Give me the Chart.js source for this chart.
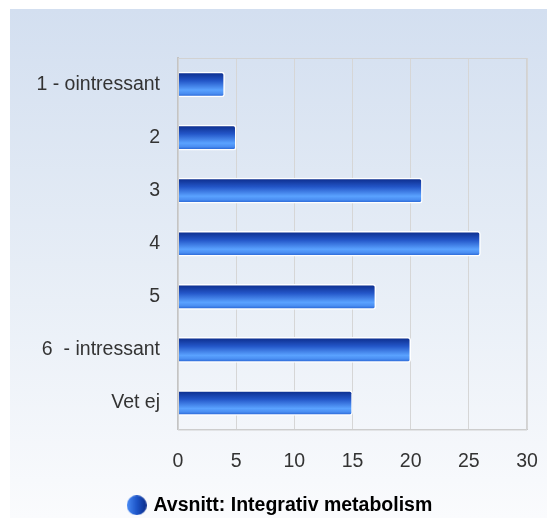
<!DOCTYPE html>
<html>
<head>
<meta charset="utf-8">
<script src="https://cdn.jsdelivr.net/npm/chart.js@4/dist/chart.umd.min.js"></script>
<style>
  html, body { margin: 0; padding: 0; background: #fff; overflow: hidden; width: 547px; height: 518px; }
  .panel { position: absolute; left: 10px; top: 9px; width: 537px; height: 509px;
           background: linear-gradient(to bottom, #d3dff0 0%, #e6edf6 50%, #fafbfd 100%); }
  .wrap { position: absolute; left: 0; top: 0; width: 547px; height: 525px; }
</style>
</head>
<body>
<div class="panel"></div>
<div class="wrap"><canvas id="chart" width="547" height="525"></canvas></div>
<script>
// kategorier och värden
const categories = ['1 - ointressant', '2', '3', '4', '5', '6  - intressant', 'Vet ej'];
const counts = [4, 5, 21, 26, 17, 20, 15];
const xTicks = [0, 5, 10, 15, 20, 25, 30];
const seriesName = 'Avsnitt: Integrativ metabolism';

const BAR_H = 25;

// cylinder-gradient per stapel
function barGradient(context) {
    const chart = context.chart;
    if (!chart.chartArea || !chart.scales.y) return '#2a62d8';
    const y = chart.scales.y.getPixelForValue(context.dataIndex);
    const g = chart.ctx.createLinearGradient(0, y - BAR_H / 2, 0, y + BAR_H / 2);
    g.addColorStop(0, '#0b2a88');
    g.addColorStop(0.35, '#2356c8');
    g.addColorStop(0.72, '#5aa2ff');
    g.addColorStop(0.86, '#4a8ef2');
    g.addColorStop(1, '#1f5acc');
    return g;
}

// liten rund legendsymbol
function legendDot() {
    const c = document.createElement('canvas');
    c.width = 20; c.height = 20;
    const x = c.getContext('2d');
    const g = x.createLinearGradient(0, 0, 20, 0);
    g.addColorStop(0, '#4a8cf5');
    g.addColorStop(0.5, '#1d55c8');
    g.addColorStop(1, '#0a2a88');
    x.fillStyle = g;
    x.beginPath();
    x.arc(10, 10, 10, 0, Math.PI * 2);
    x.fill();
    return c;
}
const dot = legendDot();

// ram runt plotytan
const frame = {
    id: 'frame',
    afterDatasetsDraw(chart) {
        const a = chart.chartArea, ctx = chart.ctx;
        ctx.save();
        ctx.strokeStyle = '#d2d2d2';
        ctx.lineWidth = 1;
        ctx.strokeRect(a.left + 0.5, a.top + 0.5, a.right - a.left - 1, a.bottom - a.top);
        ctx.restore();
    }
};

new Chart(document.getElementById('chart'), {
    type: 'bar',
    data: {
        labels: categories,
        datasets: [{
            label: seriesName,
            data: counts,
            backgroundColor: barGradient,
            borderColor: '#ffffff',
            borderWidth: 1.5,
            borderRadius: 3,
            barThickness: BAR_H
        }]
    },
    options: {
        indexAxis: 'y',
        responsive: false,
        animation: false,
        layout: { padding: { top: 58, right: 20, left: 35, bottom: 0 } },
        plugins: {
            tooltip: { enabled: false },
            legend: {
                position: 'bottom',
                labels: {
                    usePointStyle: true,
                    pointStyle: dot,
                    boxWidth: 14,
                    color: '#333',
                    padding: 9,
                    font: { family: 'Liberation Sans, Arial, sans-serif', size: 19.5, weight: 'bold' },
                    generateLabels: (chart) => [{
                        text: seriesName,
                        pointStyle: dot,
                        fillStyle: '#1d55c8',
                        strokeStyle: 'transparent',
                        lineWidth: 0,
                        datasetIndex: 0
                    }]
                }
            }
        },
        scales: {
            x: {
                min: 0,
                max: 30,
                afterBuildTicks: (s) => { s.ticks = xTicks.map(v => ({ value: v })); },
                afterFit: (s) => { s.height = 57; s.paddingLeft = 0; s.paddingRight = 0; },
                grid: { color: '#d6d6d6', drawTicks: false },
                border: { color: '#c8c8c8', width: 1 },
                ticks: {
                    color: '#333',
                    padding: 20,
                    font: { family: 'Liberation Sans, Arial, sans-serif', size: 19.5 }
                }
            },
            y: {
                afterFit: (s) => { s.width = 143; },
                grid: { display: false, drawTicks: false },
                border: { color: '#c4c4c4', width: 2 },
                ticks: {
                    color: '#333',
                    padding: 18,
                    font: { family: 'Liberation Sans, Arial, sans-serif', size: 19.5 }
                }
            }
        }
    },
    plugins: [frame]
});
</script>
</body>
</html>
